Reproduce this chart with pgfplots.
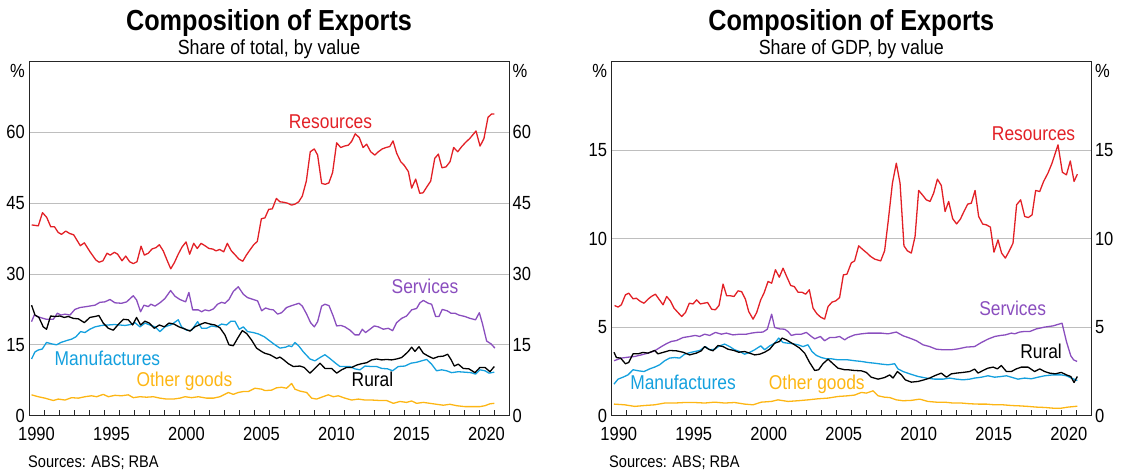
\documentclass[border=0pt]{standalone}
\usepackage{fontspec}
\setmainfont{Liberation Sans}[FakeStretch=0.87]
\usepackage{pgfplots}
\pgfplotsset{compat=1.18}
\definecolor{rbared}{RGB}{226,32,38}
\definecolor{rbapurple}{RGB}{138,78,190}
\definecolor{rbablue}{RGB}{20,160,222}
\definecolor{rbaorange}{RGB}{253,182,20}
\definecolor{gridgray}{RGB}{190,190,190}
\tikzset{lab/.style={anchor=base, font=\fontsize{20}{20}\selectfont}}
\pgfplotsset{
  rba/.style={
    scale only axis, width=480pt, height=354pt,
    xmin=1990, xmax=2022,
    clip=false,
    /pgf/number format/assume math mode=true,
    axis line style={black!85, line width=0.9pt},
    xtick={1990.5,1995.5,2000.5,2005.5,2010.5,2015.5,2020.5},
    xticklabels={1990,1995,2000,2005,2010,2015,2020},
    minor xtick={1991,...,2021},
    xtick pos=left,
    tick align=inside,
    major tick length=0pt,
    minor tick length=6pt,
    minor tick style={black!85, line width=0.9pt},
    ymajorgrids,
    major grid style={gridgray, line width=0.9pt},
    tick label style={font=\fontsize{19}{19}\selectfont},
    xticklabel style={anchor=base, yshift=-25.1pt},
    yticklabel style={anchor=east, inner xsep=4pt},
    every axis plot/.append style={line width=1.3pt, no marks, line join=round},
  },
  rbaright/.style={
    scale only axis, width=480pt, height=354pt,
    xmin=1990, xmax=2022,
    /pgf/number format/assume math mode=true,
    hide x axis,
    axis y line*=right,
    y axis line style={draw=none},
    major tick length=0pt,
    tick label style={font=\fontsize{19}{19}\selectfont},
    yticklabel style={anchor=west, inner xsep=3.5pt},
  },
}
\begin{document}
\begin{tikzpicture}
\useasboundingbox (0,0) rectangle (1121pt,475pt);
% ---------------- Titles ----------------
\node[anchor=base, font=\bfseries\fontsize{29}{29}\selectfont] at (269pt,444.5pt) {Composition of Exports};
\node[anchor=base, font=\fontsize{20.5}{20.5}\selectfont] at (269pt,420.5pt) {Share of total, by value};
\node[anchor=base, font=\bfseries\fontsize{29}{29}\selectfont] at (851.3pt,444.5pt) {Composition of Exports};
\node[anchor=base, font=\fontsize{20.5}{20.5}\selectfont] at (851.3pt,420.5pt) {Share of GDP, by value};
\node[anchor=base west, inner sep=0pt, font=\fontsize{16.8}{16.8}\selectfont] at (28pt,7.3pt) {Sources: ABS; RBA};
\node[anchor=base west, inner sep=0pt, font=\fontsize{16.8}{16.8}\selectfont] at (609pt,7.3pt) {Sources: ABS; RBA};
% ---------------- Left panel ----------------
\begin{axis}[rba, at={(29pt,59.4pt)}, anchor=south west, ymin=0, ymax=75, ytick={0,15,30,45,60}]
\addplot[rbared] coordinates {(1990.18,40.4)(1990.62,40.2)(1990.9,43.0)(1991.18,42.0)(1991.45,40.0)(1991.7,40.0)(1991.95,38.8)(1992.17,38.4)(1992.45,39.1)(1992.7,38.6)(1992.98,38.3)(1993.42,36.0)(1993.69,36.6)(1994.07,34.7)(1994.45,33.0)(1994.67,32.5)(1994.93,32.8)(1995.2,34.4)(1995.42,34.0)(1995.69,34.6)(1995.91,34.2)(1996.2,32.8)(1996.45,33.8)(1996.71,32.6)(1996.95,32.2)(1997.2,32.6)(1997.47,35.9)(1997.69,34.0)(1997.95,34.4)(1998.2,35.3)(1998.47,35.6)(1998.69,36.2)(1998.95,34.9)(1999.22,32.8)(1999.45,31.1)(1999.69,32.4)(1999.95,34.2)(2000.2,35.7)(2000.47,36.8)(2000.71,34.2)(2000.98,36.5)(2001.22,35.4)(2001.47,36.5)(2001.73,36.0)(2002.0,35.4)(2002.24,35.3)(2002.47,34.9)(2002.71,35.2)(2002.98,34.7)(2003.22,36.5)(2003.49,34.9)(2003.73,34.1)(2003.98,33.2)(2004.25,32.7)(2004.49,34.0)(2004.73,35.1)(2004.98,36.2)(2005.22,36.9)(2005.49,41.7)(2005.73,41.9)(2005.98,43.7)(2006.22,43.8)(2006.49,46.0)(2006.73,45.3)(2006.98,45.2)(2007.24,45.0)(2007.51,44.6)(2007.73,44.8)(2007.98,45.3)(2008.22,46.5)(2008.49,49.7)(2008.75,55.9)(2009.02,56.5)(2009.24,55.2)(2009.51,49.2)(2009.75,49.0)(2009.99,49.3)(2010.24,51.5)(2010.51,57.8)(2010.78,56.8)(2011.02,57.1)(2011.29,57.3)(2011.51,58.1)(2011.75,59.7)(2012.02,58.9)(2012.27,56.8)(2012.51,57.5)(2012.78,55.9)(2013.05,55.2)(2013.29,55.9)(2013.55,56.5)(2013.8,56.8)(2014.05,57.0)(2014.27,58.2)(2014.51,55.6)(2014.78,53.8)(2015.02,53.0)(2015.29,51.7)(2015.51,48.2)(2015.78,50.1)(2016.05,47.1)(2016.27,47.2)(2016.53,48.5)(2016.78,49.7)(2017.05,54.5)(2017.29,55.4)(2017.53,52.5)(2017.8,52.7)(2018.07,53.8)(2018.31,56.8)(2018.58,55.9)(2018.85,57.0)(2019.11,57.9)(2019.38,58.7)(2019.8,60.3)(2020.07,57.1)(2020.33,58.7)(2020.6,63.2)(2020.84,63.9)(2021.02,63.9)};
\addplot[rbapurple] coordinates {(1990.17,19.9)(1990.35,21.3)(1990.73,20.8)(1991.17,20.4)(1991.62,20.4)(1991.89,21.7)(1992.13,21.3)(1992.4,21.5)(1992.73,21.3)(1993.06,22.5)(1993.4,22.9)(1993.84,23.1)(1994.4,23.4)(1994.73,24.0)(1995.06,24.1)(1995.4,24.6)(1995.73,23.9)(1996.17,23.8)(1996.51,24.1)(1996.95,25.4)(1997.17,24.5)(1997.44,22.0)(1997.66,23.4)(1997.95,23.1)(1998.13,23.6)(1998.4,23.2)(1998.73,23.9)(1999.06,24.8)(1999.44,26.5)(1999.73,25.3)(2000.06,24.6)(2000.44,24.1)(2000.66,26.1)(2000.91,22.4)(2001.29,22.4)(2001.51,22.0)(2001.73,22.4)(2002.0,22.2)(2002.29,22.6)(2002.57,23.6)(2002.84,24.0)(2003.06,23.8)(2003.33,24.6)(2003.62,26.3)(2003.95,27.3)(2004.29,25.7)(2004.57,25.0)(2004.95,24.6)(2005.24,24.3)(2005.51,22.2)(2005.77,22.8)(2006.06,22.5)(2006.29,22.4)(2006.57,21.5)(2006.84,21.8)(2007.17,22.9)(2007.51,23.3)(2008.0,23.8)(2008.22,23.2)(2008.51,21.5)(2008.77,19.7)(2009.02,18.8)(2009.24,19.9)(2009.51,23.2)(2009.73,23.6)(2010.0,23.3)(2010.29,21.0)(2010.51,19.0)(2010.8,19.1)(2011.06,18.8)(2011.4,18.1)(2011.73,17.1)(2012.0,17.1)(2012.22,18.3)(2012.44,17.6)(2012.73,18.3)(2013.02,19.0)(2013.29,18.8)(2013.62,18.3)(2013.95,18.5)(2014.24,18.0)(2014.51,19.7)(2014.84,20.6)(2015.17,21.1)(2015.51,22.4)(2015.84,22.7)(2016.06,23.9)(2016.29,24.4)(2016.62,23.8)(2016.84,23.6)(2017.11,21.0)(2017.33,21.0)(2017.55,22.5)(2017.88,22.2)(2018.13,21.7)(2018.4,21.7)(2018.66,21.3)(2019.06,21.0)(2019.4,20.6)(2019.77,20.3)(2020.02,21.8)(2020.22,19.6)(2020.51,15.8)(2020.8,15.2)(2021.06,14.3)};
\addplot[rbablue] coordinates {(1990.17,12.0)(1990.4,13.5)(1990.62,13.9)(1990.88,14.1)(1991.17,15.5)(1991.51,15.2)(1991.84,15.0)(1992.13,15.5)(1992.51,15.9)(1992.84,16.2)(1993.13,16.7)(1993.44,17.8)(1993.73,17.6)(1994.06,18.3)(1994.4,18.8)(1994.84,19.1)(1995.29,19.2)(1995.69,19.3)(1996.06,19.2)(1996.4,19.1)(1996.8,19.3)(1997.06,19.7)(1997.4,18.8)(1997.73,19.6)(1998.06,19.2)(1998.4,18.8)(1998.73,17.8)(1999.06,18.8)(1999.51,19.3)(1999.95,20.3)(2000.17,18.8)(2000.51,18.1)(2000.84,18.1)(2001.24,19.9)(2001.51,18.5)(2001.84,18.5)(2002.17,19.0)(2002.51,18.8)(2002.84,19.4)(2003.17,19.2)(2003.46,20.0)(2003.73,20.0)(2004.02,18.3)(2004.29,18.8)(2004.57,17.8)(2004.95,17.6)(2005.29,17.3)(2005.69,16.7)(2006.06,15.8)(2006.4,15.0)(2006.73,14.3)(2007.11,14.5)(2007.33,14.8)(2007.51,14.6)(2007.73,15.5)(2008.0,14.7)(2008.29,13.5)(2008.73,12.0)(2009.06,11.6)(2009.4,12.3)(2009.73,12.9)(2010.06,12.1)(2010.44,11.1)(2010.73,10.4)(2011.06,10.4)(2011.4,10.4)(2011.73,9.9)(2012.06,9.7)(2012.4,10.5)(2012.8,10.4)(2013.17,10.4)(2013.51,10.0)(2013.91,9.9)(2014.24,9.5)(2014.62,10.4)(2015.06,10.5)(2015.46,11.1)(2015.84,11.3)(2016.17,11.6)(2016.51,11.9)(2016.84,10.9)(2017.17,9.5)(2017.51,9.7)(2017.84,9.5)(2018.17,9.1)(2018.62,9.3)(2019.06,9.2)(2019.46,9.1)(2019.77,8.8)(2020.06,9.7)(2020.4,9.5)(2020.66,9.0)(2021.02,9.2)};
\addplot[black] coordinates {(1990.17,23.4)(1990.4,21.3)(1990.66,20.8)(1990.95,18.8)(1991.17,18.3)(1991.44,21.1)(1991.73,21.0)(1992.06,21.1)(1992.35,20.8)(1992.62,21.0)(1992.95,20.6)(1993.29,20.5)(1993.69,19.7)(1994.06,20.8)(1994.4,21.0)(1994.66,21.2)(1994.95,19.6)(1995.29,18.5)(1995.62,18.1)(1995.95,19.3)(1996.29,20.4)(1996.62,20.3)(1996.91,19.2)(1997.17,20.8)(1997.44,19.2)(1997.73,20.0)(1998.02,19.6)(1998.35,18.5)(1998.69,19.2)(1999.02,18.8)(1999.33,19.6)(1999.66,19.4)(2000.0,18.8)(2000.35,18.4)(2000.73,17.9)(2001.06,18.8)(2001.4,19.3)(2001.73,19.7)(2002.06,19.4)(2002.4,19.2)(2002.73,18.6)(2003.06,17.1)(2003.33,15.0)(2003.62,14.8)(2003.91,16.4)(2004.22,18.0)(2004.51,17.4)(2004.84,16.0)(2005.17,14.3)(2005.55,13.5)(2005.73,13.2)(2006.06,12.9)(2006.29,12.5)(2006.51,12.1)(2006.73,12.4)(2006.95,11.9)(2007.29,11.0)(2007.62,10.4)(2008.06,10.5)(2008.35,10.2)(2008.73,9.0)(2009.06,10.0)(2009.4,11.1)(2009.73,10.0)(2010.17,10.0)(2010.51,9.0)(2010.84,9.7)(2011.17,10.2)(2011.51,10.2)(2011.84,10.7)(2012.17,11.0)(2012.51,11.2)(2012.84,11.8)(2013.17,12.0)(2013.51,11.8)(2013.84,11.9)(2014.17,11.8)(2014.51,12.0)(2014.84,12.3)(2015.06,12.9)(2015.29,13.6)(2015.51,14.5)(2015.73,13.6)(2016.0,14.6)(2016.29,13.2)(2016.62,12.6)(2016.95,12.1)(2017.29,12.5)(2017.62,12.6)(2017.91,13.0)(2018.13,11.9)(2018.35,10.5)(2018.62,10.9)(2018.95,10.0)(2019.33,9.9)(2019.73,9.1)(2020.06,10.2)(2020.4,10.2)(2020.73,9.3)(2021.02,10.4)};
\addplot[rbaorange] coordinates {(1990.17,4.4)(1990.62,4.0)(1991.06,3.7)(1991.62,3.2)(1991.95,3.5)(1992.4,3.3)(1992.84,3.8)(1993.29,3.7)(1993.73,4.0)(1994.17,4.2)(1994.51,4.0)(1994.95,4.5)(1995.29,4.0)(1995.73,4.3)(1996.17,4.2)(1996.62,4.4)(1996.95,3.8)(1997.4,4.0)(1997.84,3.9)(1998.29,4.0)(1998.73,3.7)(1999.17,3.5)(1999.62,3.5)(2000.06,3.7)(2000.4,4.0)(2000.84,3.8)(2001.29,4.0)(2001.84,3.7)(2002.29,3.7)(2002.73,4.0)(2003.29,4.9)(2003.62,4.5)(2003.95,4.9)(2004.29,5.1)(2004.62,5.1)(2005.06,5.8)(2005.51,5.6)(2005.73,5.3)(2006.17,5.4)(2006.51,5.9)(2006.84,6.0)(2007.17,5.8)(2007.51,6.8)(2007.73,5.6)(2008.06,5.2)(2008.51,4.9)(2008.84,3.7)(2009.17,3.5)(2009.51,3.9)(2009.95,4.4)(2010.29,4.0)(2010.62,4.2)(2011.06,3.7)(2011.51,3.3)(2011.95,3.5)(2012.4,3.3)(2012.84,3.3)(2013.4,3.2)(2013.84,3.2)(2014.29,2.6)(2014.73,3.0)(2015.17,2.8)(2015.51,3.1)(2015.84,2.6)(2016.29,2.8)(2016.73,2.6)(2017.17,2.4)(2017.62,2.2)(2018.06,2.4)(2018.51,2.1)(2019.06,1.9)(2019.62,1.9)(2020.06,1.9)(2020.4,2.1)(2020.73,2.5)(2021.02,2.6)};
\node[lab, text=rbared] at (axis cs:2010.1,60.9) {Resources};
\node[lab, text=rbapurple] at (axis cs:2016.4,25.95) {Services};
\node[lab, text=rbablue] at (axis cs:1995.23,10.7) {Manufactures};
\node[lab, text=rbaorange] at (axis cs:2000.36,6.27) {Other goods};
\node[lab, text=black] at (axis cs:2012.9,6.27) {Rural};
\node[anchor=base east, inner xsep=4pt, font=\fontsize{19}{19}\selectfont] at (rel axis cs:0,1) [yshift=-15.4pt] {\%};
\node[anchor=base west, inner xsep=3.5pt, font=\fontsize{19}{19}\selectfont] at (rel axis cs:1,1) [yshift=-15.4pt] {\%};
\end{axis}
\begin{axis}[rbaright, at={(29pt,59.4pt)}, anchor=south west, ymin=0, ymax=75, ytick={0,15,30,45,60}]
\end{axis}
% ---------------- Right panel ----------------
\begin{axis}[rba, at={(611.3pt,59.4pt)}, anchor=south west, ymin=0, ymax=20, ytick={0,5,10,15}]
\addplot[rbared] coordinates {(1990.22,6.22)(1990.45,6.13)(1990.67,6.26)(1990.94,6.82)(1991.16,6.92)(1991.45,6.6)(1991.67,6.63)(1991.94,6.45)(1992.18,6.35)(1992.45,6.58)(1992.67,6.73)(1992.94,6.86)(1993.16,6.6)(1993.45,6.26)(1993.69,6.73)(1993.94,6.48)(1994.18,6.07)(1994.45,5.82)(1994.69,5.6)(1994.94,5.82)(1995.2,6.35)(1995.45,6.31)(1995.69,6.54)(1995.94,6.31)(1996.18,6.35)(1996.42,6.39)(1996.69,6.01)(1996.94,5.98)(1997.18,6.22)(1997.45,7.43)(1997.69,6.77)(1997.94,6.77)(1998.18,6.73)(1998.45,7.05)(1998.69,7.0)(1998.94,6.58)(1999.16,5.88)(1999.45,5.45)(1999.69,5.82)(1999.96,6.54)(2000.18,6.92)(2000.45,7.58)(2000.69,7.48)(2000.94,8.24)(2001.2,7.82)(2001.45,8.33)(2001.69,7.86)(2001.96,7.35)(2002.2,7.29)(2002.45,6.97)(2002.71,6.97)(2002.96,6.86)(2003.2,7.11)(2003.45,6.07)(2003.71,5.75)(2003.96,5.56)(2004.22,5.45)(2004.45,6.16)(2004.71,6.41)(2004.96,6.48)(2005.22,6.67)(2005.47,7.95)(2005.71,7.99)(2006.0,8.63)(2006.22,8.74)(2006.49,9.59)(2006.78,9.37)(2007.05,9.18)(2007.29,8.99)(2007.56,8.84)(2007.96,8.74)(2008.22,9.31)(2008.47,11.06)(2008.74,13.13)(2009.0,14.26)(2009.25,13.13)(2009.51,9.59)(2009.74,9.31)(2010.0,9.18)(2010.25,10.12)(2010.49,12.72)(2010.74,12.47)(2011.0,12.19)(2011.25,12.1)(2011.49,12.57)(2011.74,13.36)(2012.0,13.0)(2012.25,11.53)(2012.49,12.1)(2012.76,11.12)(2013.02,10.83)(2013.27,11.1)(2013.51,11.53)(2013.76,11.95)(2014.0,12.0)(2014.25,12.72)(2014.49,11.25)(2014.76,10.82)(2015.0,10.78)(2015.27,10.65)(2015.51,9.23)(2015.78,9.93)(2016.02,9.18)(2016.27,8.9)(2016.51,9.27)(2016.78,9.74)(2017.02,11.91)(2017.29,12.19)(2017.56,11.25)(2017.8,11.19)(2018.05,11.34)(2018.29,12.72)(2018.56,12.66)(2018.82,13.23)(2019.11,13.7)(2019.38,14.26)(2019.78,15.3)(2020.07,13.75)(2020.34,13.6)(2020.6,14.39)(2020.85,13.23)(2021.07,13.64)};
\addplot[rbapurple] coordinates {(1990.18,3.1)(1990.67,3.25)(1991.11,3.3)(1991.56,3.34)(1992.0,3.43)(1992.45,3.53)(1992.89,3.66)(1993.34,3.9)(1993.67,4.06)(1994.0,4.19)(1994.34,4.24)(1994.78,4.41)(1995.22,4.47)(1995.6,4.53)(1995.89,4.47)(1996.22,4.6)(1996.56,4.53)(1996.94,4.7)(1997.34,4.6)(1997.67,4.66)(1998.11,4.56)(1998.56,4.6)(1999.0,4.6)(1999.34,4.66)(1999.67,4.7)(2000.11,4.72)(2000.4,4.88)(2000.69,5.73)(2000.89,4.98)(2001.22,4.9)(2001.56,4.88)(2001.78,4.75)(2002.0,4.53)(2002.34,4.6)(2002.67,4.6)(2003.0,4.7)(2003.34,4.47)(2003.56,4.34)(2003.94,4.47)(2004.22,4.23)(2004.56,4.41)(2004.89,4.41)(2005.22,4.47)(2005.56,4.28)(2005.78,4.41)(2006.22,4.56)(2006.67,4.62)(2007.11,4.66)(2007.56,4.66)(2008.0,4.66)(2008.45,4.62)(2009.0,4.72)(2009.45,4.51)(2009.89,4.38)(2010.34,4.23)(2010.78,4.0)(2011.22,3.9)(2011.67,3.75)(2012.11,3.72)(2012.67,3.72)(2013.11,3.77)(2013.67,3.87)(2014.22,3.9)(2014.67,4.13)(2015.11,4.32)(2015.56,4.47)(2015.96,4.53)(2016.27,4.56)(2016.67,4.66)(2016.89,4.62)(2017.22,4.72)(2017.51,4.75)(2017.89,4.75)(2018.34,4.9)(2018.89,5.0)(2019.45,5.07)(2020.05,5.22)(2020.34,4.19)(2020.63,3.38)(2020.82,3.15)(2021.05,3.06)};
\addplot[rbablue] coordinates {(1990.18,1.78)(1990.45,2.06)(1990.78,2.17)(1991.11,2.3)(1991.45,2.59)(1991.82,2.53)(1992.18,2.49)(1992.56,2.64)(1992.89,2.74)(1993.22,2.87)(1993.56,3.1)(1993.89,3.25)(1994.22,3.28)(1994.56,3.25)(1994.89,3.47)(1995.29,3.57)(1995.56,3.62)(1995.89,3.68)(1996.27,3.9)(1996.56,3.72)(1996.89,3.75)(1997.22,3.94)(1997.56,4.04)(1997.89,3.9)(1998.22,3.72)(1998.56,3.62)(1998.89,3.47)(1999.22,3.57)(1999.56,3.72)(1999.96,3.94)(2000.22,3.72)(2000.56,3.94)(2000.89,4.09)(2001.16,4.38)(2001.45,4.13)(2001.78,4.09)(2002.11,4.06)(2002.45,4.0)(2002.78,3.9)(2003.11,4.0)(2003.38,3.62)(2003.67,3.4)(2004.0,3.28)(2004.34,3.21)(2004.67,3.21)(2005.11,3.15)(2005.56,3.15)(2005.78,3.15)(2006.22,3.1)(2006.67,3.06)(2007.11,3.0)(2007.56,2.96)(2008.0,2.91)(2008.45,2.87)(2008.89,2.93)(2009.11,2.64)(2009.45,2.49)(2009.89,2.36)(2010.45,2.21)(2011.0,2.12)(2011.56,2.06)(2012.11,2.06)(2012.56,2.12)(2013.0,2.06)(2013.45,2.02)(2013.89,2.06)(2014.22,2.12)(2014.67,2.17)(2015.11,2.25)(2015.56,2.17)(2016.0,2.21)(2016.34,2.25)(2016.67,2.17)(2017.11,2.06)(2017.56,2.12)(2018.0,2.08)(2018.45,2.17)(2018.89,2.25)(2019.45,2.3)(2020.0,2.3)(2020.34,2.25)(2020.67,2.12)(2021.07,1.98)};
\addplot[black] coordinates {(1990.18,3.58)(1990.34,3.28)(1990.62,3.25)(1990.94,2.93)(1991.16,3.0)(1991.45,3.49)(1991.78,3.49)(1992.11,3.57)(1992.45,3.53)(1992.89,3.68)(1993.11,3.49)(1993.45,3.57)(1993.89,3.68)(1994.34,3.66)(1994.78,3.58)(1995.22,3.43)(1995.67,3.53)(1996.0,3.66)(1996.22,3.9)(1996.49,3.75)(1996.78,3.66)(1997.11,3.96)(1997.45,3.9)(1997.78,3.75)(1998.18,3.68)(1998.49,3.58)(1998.89,3.62)(1999.22,3.53)(1999.56,3.43)(1999.89,3.47)(2000.22,3.58)(2000.56,3.75)(2000.89,4.09)(2001.22,4.19)(2001.38,4.38)(2001.67,4.28)(2001.96,4.13)(2002.22,4.0)(2002.56,3.81)(2002.89,3.53)(2003.22,3.0)(2003.56,2.55)(2003.82,2.59)(2004.11,2.93)(2004.45,3.19)(2004.78,2.93)(2005.11,2.68)(2005.56,2.59)(2005.78,2.59)(2006.22,2.55)(2006.67,2.53)(2007.0,2.44)(2007.33,2.17)(2007.78,2.06)(2008.22,2.15)(2008.56,2.3)(2008.78,2.12)(2009.07,2.49)(2009.34,2.3)(2009.6,2.02)(2010.0,1.89)(2010.45,1.93)(2010.85,2.02)(2011.22,2.12)(2011.6,2.27)(2012.0,2.4)(2012.34,2.17)(2012.67,2.36)(2013.0,2.4)(2013.45,2.44)(2013.89,2.49)(2014.22,2.63)(2014.45,2.4)(2014.78,2.55)(2015.11,2.68)(2015.45,2.74)(2015.74,2.64)(2016.0,2.83)(2016.34,2.49)(2016.67,2.49)(2017.0,2.64)(2017.34,2.74)(2017.78,2.74)(2018.22,2.49)(2018.56,2.64)(2018.89,2.49)(2019.22,2.4)(2019.6,2.36)(2020.0,2.44)(2020.34,2.3)(2020.63,2.21)(2020.85,1.87)(2021.07,2.21)};
\addplot[rbaorange] coordinates {(1990.18,0.65)(1990.89,0.61)(1991.56,0.52)(1992.22,0.57)(1992.89,0.61)(1993.56,0.71)(1994.22,0.71)(1994.89,0.74)(1995.56,0.74)(1996.22,0.71)(1996.89,0.76)(1997.56,0.71)(1998.22,0.74)(1998.89,0.65)(1999.45,0.61)(2000.0,0.76)(2000.67,0.8)(2001.11,0.89)(2001.78,0.8)(2002.45,0.84)(2003.11,0.89)(2003.78,0.95)(2004.45,0.99)(2005.11,1.08)(2005.78,1.12)(2006.22,1.16)(2006.67,1.31)(2007.0,1.27)(2007.45,1.4)(2007.78,1.12)(2008.22,1.04)(2008.56,1.02)(2009.0,0.89)(2009.45,0.84)(2010.0,0.86)(2010.56,0.93)(2011.11,0.8)(2011.67,0.76)(2012.22,0.76)(2012.78,0.71)(2013.34,0.71)(2013.89,0.67)(2014.45,0.65)(2015.0,0.65)(2015.56,0.61)(2016.11,0.61)(2016.67,0.57)(2017.22,0.55)(2017.78,0.52)(2018.34,0.48)(2018.89,0.46)(2019.45,0.42)(2020.0,0.42)(2020.45,0.48)(2021.07,0.53)};
\node[lab, text=rbared] at (axis cs:2018.15,15.53) {Resources};
\node[lab, text=rbapurple] at (axis cs:2016.76,5.64) {Services};
\node[lab, text=black] at (axis cs:2018.65,3.21) {Rural};
\node[lab, text=rbablue] at (axis cs:1994.78,1.46) {Manufactures};
\node[lab, text=rbaorange] at (axis cs:2003.7,1.49) {Other goods};
\node[anchor=base east, inner xsep=4pt, font=\fontsize{19}{19}\selectfont] at (rel axis cs:0,1) [yshift=-15.4pt] {\%};
\node[anchor=base west, inner xsep=3.5pt, font=\fontsize{19}{19}\selectfont] at (rel axis cs:1,1) [yshift=-15.4pt] {\%};
\end{axis}
\begin{axis}[rbaright, at={(611.3pt,59.4pt)}, anchor=south west, ymin=0, ymax=20, ytick={0,5,10,15}]
\end{axis}
\end{tikzpicture}
\end{document}
